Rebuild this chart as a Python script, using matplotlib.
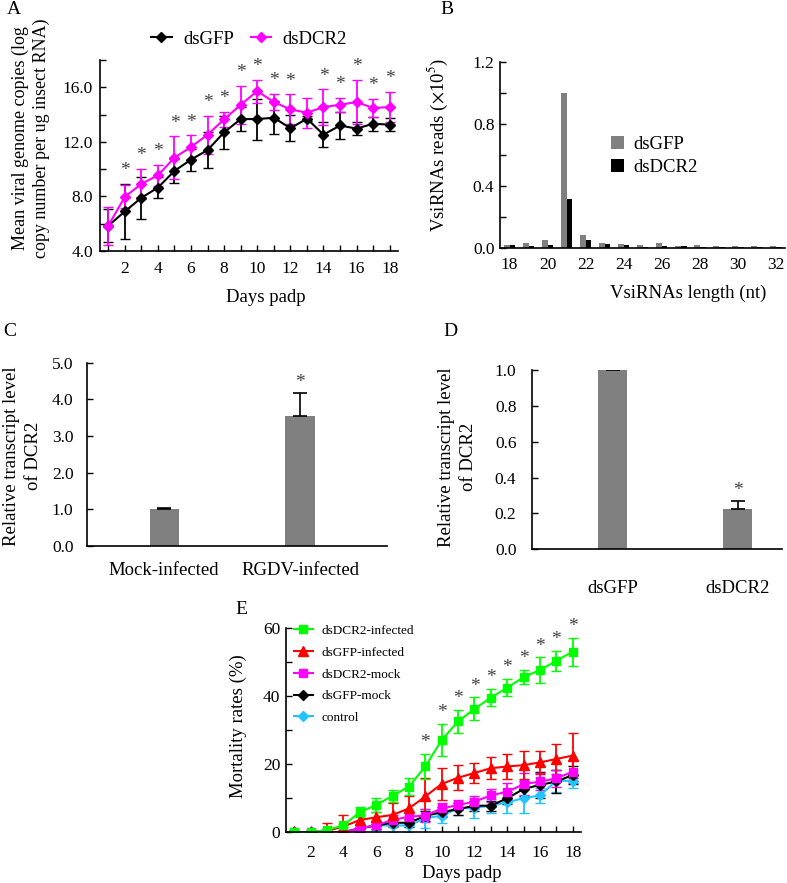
import numpy as np
import matplotlib
matplotlib.use("Agg")
import matplotlib.pyplot as plt

plt.rcParams['font.family'] = ['Liberation Serif', 'DejaVu Serif']
plt.rcParams['mathtext.fontset'] = 'stix'

# ---- panel A: viral genome copies
days = np.arange(1, 19)
gfp_a = [5.85, 6.9, 7.9, 8.65, 9.87, 10.7, 11.4, 12.7, 13.67, 13.67, 13.77, 13.0, 13.7, 12.53, 13.2, 12.97, 13.33, 13.26]
gfp_a_err = [1.2, 2.0, 1.55, 0.8, 0.9, 0.8, 1.3, 1.2, 0.9, 1.5, 1.2, 0.95, 0.2, 0.9, 1.0, 0.5, 0.5, 0.5]
dcr_a = [5.85, 7.97, 8.92, 9.55, 10.85, 11.62, 12.53, 13.65, 14.72, 15.72, 14.92, 14.38, 14.14, 14.55, 14.72, 14.92, 14.48, 14.55]
dcr_a_err = [1.4, 0.85, 1.1, 0.75, 1.55, 0.85, 1.4, 0.55, 1.4, 0.85, 0.6, 1.1, 1.1, 1.3, 0.5, 1.6, 0.65, 1.1]
stars_a = [2, 3, 4, 5, 6, 7, 8, 9, 10, 11, 12, 14, 15, 16, 17, 18]

# ---- panel B: vsiRNA length distribution
lengths = np.arange(18, 33)
reads_gfp = [0.02, 0.028, 0.05, 1.0, 0.08, 0.028, 0.022, 0.02, 0.028, 0.012, 0.018, 0.012, 0.012, 0.014, 0.013]
reads_dcr = [0.015, 0.013, 0.02, 0.314, 0.05, 0.022, 0.015, 0.005, 0.013, 0.008, 0.005, 0.005, 0.004, 0.004, 0.002]

# ---- panel C / D: relative DCR2 transcript
c_groups = ['Mock-infected', 'RGDV-infected']
c_vals = [1.0, 3.54]
c_err = [0.02, 0.64]
d_groups = ['dsGFP', 'dsDCR2']
d_vals = [1.0, 0.225]
d_err = [0.005, 0.046]

# ---- panel E: mortality
e_names = ['dsDCR2-infected', 'dsGFP-infected', 'dsDCR2-mock', 'dsGFP-mock', 'control']
green_e = [0, 0, 0.7, 2.0, 5.9, 8.0, 10.7, 13.4, 19.3, 27.1, 32.5, 36.2, 39.5, 42.4, 45.5, 47.6, 50.3, 53.0]
green_err = [0.3, 0.5, 0.6, 0.5, 1.5, 2.0, 1.7, 2.6, 3.6, 4.6, 3.4, 3.4, 2.5, 2.5, 2.1, 3.7, 3.0, 4.1]
red_e = [0, 0, 0.4, 1.7, 3.6, 4.4, 5.1, 7.0, 10.5, 14.2, 16.0, 17.4, 18.8, 19.3, 19.7, 20.5, 21.5, 22.5]
red_err = [0.3, 0.5, 2.2, 3.4, 1.5, 1.5, 3.4, 3.5, 5.5, 4.8, 3.6, 2.9, 3.2, 3.6, 4.0, 3.4, 4.3, 6.5]
mag_e = [0, 0, 0, 0, 1.2, 2.1, 3.6, 4.6, 4.9, 7.0, 8.0, 9.0, 10.8, 11.9, 14.1, 14.9, 15.8, 17.8]
mag_err = [0.3, 0.3, 0.3, 0.3, 1.0, 1.2, 1.5, 1.5, 1.8, 1.5, 1.5, 1.5, 1.8, 2.5, 3.2, 2.5, 2.5, 3.4]
blk_e = [0, 0, 0, 0, 1.2, 2.0, 2.8, 2.8, 4.8, 5.9, 6.8, 7.8, 7.8, 10.0, 12.7, 13.9, 14.9, 16.8]
blk_err = [0.3, 0.3, 0.3, 0.3, 1.0, 1.0, 1.0, 1.2, 1.5, 1.5, 1.8, 1.5, 1.5, 1.8, 2.2, 3.8, 3.5, 2.5]
cyan_e = [0, 0, 0, 0, 1.0, 2.0, 2.0, 2.0, 4.1, 4.9, 7.0, 7.2, 7.8, 8.8, 10.0, 10.8, 15.1, 15.1]
cyan_err = [0.3, 0.3, 0.3, 0.3, 1.0, 1.2, 2.0, 2.0, 2.8, 2.2, 2.0, 3.0, 2.0, 3.0, 4.3, 2.3, 3.2, 2.0]
stars_e = [9, 10, 11, 12, 13, 14, 15, 16, 17, 18]

W, H = 787, 883
fig = plt.figure(figsize=(W / 100, H / 100), dpi=100)


def box(l, t, r, b):
    ax = fig.add_axes([l / W, 1 - b / H, (r - l) / W, (b - t) / H])
    for s in ['top', 'right']:
        ax.spines[s].set_visible(False)
    for s in ['left', 'bottom']:
        ax.spines[s].set_linewidth(1.2)
    ax.tick_params(direction='in', length=4, width=1.0, labelsize=12.5)
    return ax


star_col = '#404040'

# A
ax = box(100, 60, 398, 251)
ax.errorbar(days, gfp_a, yerr=gfp_a_err, color='black', marker='D', ms=5.5,
            lw=1.5, capsize=3.5, elinewidth=1.3, label='dsGFP')
ax.errorbar(days, dcr_a, yerr=dcr_a_err, color='#FF00FF', marker='D', ms=5.5,
            lw=1.5, capsize=3.5, elinewidth=1.3, label='dsDCR2')
for d in stars_a:
    top = max(dcr_a[d - 1] + dcr_a_err[d - 1], gfp_a[d - 1] + gfp_a_err[d - 1])
    ax.text(d, top + 0.35, '*', ha='center', va='bottom', fontsize=14, color=star_col)
ax.set_xlim(0.5, 18.5)
ax.set_ylim(4, 18)
ax.set_xticks(days)
ax.set_xticklabels([str(d) if d % 2 == 0 else '' for d in days])
yt = np.arange(4, 18.1, 2)
ax.set_yticks(yt)
ax.set_yticklabels(['%.1f' % v if v % 4 == 0 else '' for v in yt])
ax.tick_params(axis='x', pad=7)
ax.tick_params(axis='y', pad=5)
ax.set_ylabel('Mean viral genome copies (log\ncopy number per ug insect RNA)', fontsize=13, linespacing=1.25)
ax.yaxis.set_label_coords(-0.168, 0.59)
ax.set_xlabel('Days padp', fontsize=13.5)
ax.xaxis.set_label_coords(0.557, -0.2)
h, l = ax.get_legend_handles_labels()
ax.legend([x[0] for x in h], l, loc='center', bbox_to_anchor=(0.5, 1.11), ncol=2,
          frameon=False, fontsize=13.5, handlelength=1.1, handletextpad=0.6,
          columnspacing=0.9, borderaxespad=0)
fig.text(7 / W, 1 - 9 / H, 'A', fontsize=14, va='center', ha='left')

# B
ax = box(500, 61.7, 785.5, 247.7)
ax.bar(lengths - 0.15, reads_gfp, 0.3, color='#808080', label='dsGFP')
ax.bar(lengths + 0.15, reads_dcr, 0.3, color='black', label='dsDCR2')
ax.set_xlim(17.5, 32.5)
ax.set_ylim(0, 1.2)
ax.set_xticks(np.arange(18, 33, 2))
ax.tick_params(axis='x', length=0, pad=7)
bt = np.arange(0, 1.21, 0.2)
ax.set_yticks(bt)
ax.set_yticklabels(['%.1f' % v if round(v * 10) % 4 == 0 else '' for v in bt])
ax.tick_params(axis='y', pad=4)
ax.set_ylabel(r'VsiRNAs reads ($\times$10$^5$)', fontsize=13.5)
ax.yaxis.set_label_coords(-0.175, 0.55)
ax.set_xlabel('VsiRNAs length (nt)', fontsize=13.5)
ax.xaxis.set_label_coords(0.66, -0.2)
ax.legend(loc='upper left', bbox_to_anchor=(0.33, 0.69), frameon=False, fontsize=13.5,
          handlelength=0.7, handleheight=0.7, handletextpad=0.5, labelspacing=0.3)
fig.text(440 / W, 1 - 9 / H, 'B', fontsize=14, va='center', ha='left')

# C
ax = box(87.3, 362.7, 387, 545.7)
xc = np.arange(len(c_groups))
ax.bar(xc, c_vals, 0.214, color='#808080', yerr=[[0, 0], c_err], capsize=5,
       error_kw=dict(ecolor='black', elinewidth=1.2, capthick=1.2))
ax.text(1, c_vals[1] + c_err[1] + 0.04, '*', ha='center', va='bottom', fontsize=14, color=star_col)
ax.set_xlim(-0.565, 1.64)
ax.set_ylim(0, 5)
ax.set_xticks(xc)
ax.set_xticklabels(c_groups, fontsize=13.5)
ax.tick_params(axis='x', length=0, pad=12)
ax.set_yticks(np.arange(0, 5.1, 1))
ax.set_yticklabels(['%.1f' % v for v in np.arange(0, 5.1, 1)])
ax.tick_params(axis='y', pad=10)
ax.set_ylabel('Relative transcript level\nof DCR2', fontsize=13.5, linespacing=1.4)
ax.yaxis.set_label_coords(-0.151, 0.49)
fig.text(3 / W, 1 - 332 / H, 'C', fontsize=14, va='center', ha='left')

# D
ax = box(531.7, 370, 781.7, 549.3)
xd = np.arange(len(d_groups))
ax.bar(xd, d_vals, 0.232, color='#808080', yerr=[[0, 0], d_err], capsize=5,
       error_kw=dict(ecolor='black', elinewidth=1.2, capthick=1.2))
ax.text(1, d_vals[1] + d_err[1] + 0.01, '*', ha='center', va='bottom', fontsize=14, color=star_col)
ax.set_xlim(-0.65, 1.35)
ax.set_ylim(0, 1.0)
ax.set_xticks(xd)
ax.set_xticklabels(d_groups, fontsize=13.5)
ax.tick_params(axis='x', length=0, pad=22)
dt = np.arange(0, 1.01, 0.2)
ax.set_yticks(dt)
ax.set_yticklabels(['%.1f' % v for v in dt])
ax.tick_params(axis='y', pad=11)
ax.set_ylabel('Relative transcript level\nof DCR2', fontsize=13.5, linespacing=1.35)
ax.yaxis.set_label_coords(-0.219, 0.515)
fig.text(443 / W, 1 - 332 / H, 'D', fontsize=14, va='center', ha='left')

# E
ax = box(286, 627.7, 581, 832.3)
e_series = [green_e, red_e, mag_e, blk_e, cyan_e]
e_errs = [green_err, red_err, mag_err, blk_err, cyan_err]
e_cols = ['#00FF00', '#FF0000', '#FF00FF', '#000000', '#22C4FF']
e_marks = ['s', '^', 's', 'D', 'D']
e_ms = [6, 6.5, 6, 5, 5]
handles = [None] * 5
for i in reversed(range(5)):
    eb = ax.errorbar(days, e_series[i], yerr=e_errs[i], color=e_cols[i], marker=e_marks[i],
                     ms=e_ms[i], lw=1.5, capsize=3.5, elinewidth=1.3, label=e_names[i])
    handles[i] = eb[0]
for d in stars_e:
    ax.text(d, green_e[d - 1] + green_err[d - 1] + 0.8, '*', ha='center', va='bottom',
            fontsize=14, color=star_col)
ax.set_xlim(0.5, 18.5)
ax.set_ylim(0, 60)
ax.set_xticks(days)
ax.set_xticklabels([str(d) if d % 2 == 0 else '' for d in days])
et = np.arange(0, 61, 10)
ax.set_yticks(et)
ax.set_yticklabels([str(v) if v % 20 == 0 else '' for v in et])
ax.tick_params(axis='x', pad=9)
ax.tick_params(axis='y', pad=4)
ax.set_ylabel('Mortality rates (%)', fontsize=13.5)
ax.yaxis.set_label_coords(-0.132, 0.52)
ax.set_xlabel('Days padp', fontsize=13.5)
ax.xaxis.set_label_coords(0.596, -0.16)
ax.legend(handles, e_names, loc='upper left', bbox_to_anchor=(0.01, 1.04), frameon=False,
          fontsize=9.5, handlelength=1.4, handletextpad=0.7, labelspacing=0.72, borderaxespad=0)
fig.text(235 / W, 1 - 609 / H, 'E', fontsize=14, va='center', ha='left')

fig.savefig('out.png', dpi=100)
